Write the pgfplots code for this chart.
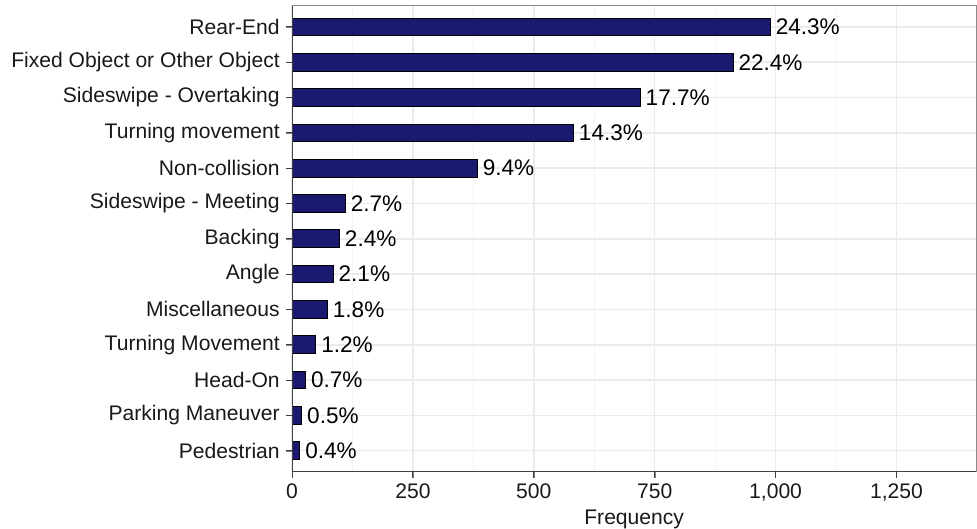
\documentclass[border=0pt]{standalone}
\usepackage{fontspec}
\setmainfont{Liberation Sans}
\usepackage{pgfplots}
\pgfplotsset{compat=1.18}
\definecolor{barblue}{HTML}{191970}
\definecolor{gridmaj}{HTML}{EBEBEB}
\definecolor{gridmin}{HTML}{F5F5F5}

\begin{document}
\begin{tikzpicture}
\begin{axis}[
  scale only axis, width=342.35pt, height=233.3pt,
  xbar, bar width=0.5,
  xmin=0, xmax=1415, ymin=-0.6, ymax=12.6,
  xtick={0,250,...,1250}, minor x tick num=1,
  ytick={0,...,12},
  yticklabels={Pedestrian, Parking Maneuver, Head-On, Turning Movement, Miscellaneous, Angle, Backing, Sideswipe - Meeting, Non-collision, Turning movement, Sideswipe - Overtaking, Fixed Object or Other Object, Rear-End},
  xmajorgrids, xminorgrids, ymajorgrids,
  major grid style={gridmaj, line width=0.75pt},
  minor grid style={gridmin, line width=0.4pt},
  tick align=outside, major tick length=3pt, minor tick length=0pt,
  xtick pos=bottom, ytick pos=left,
  axis line style={black!45, line width=0.5pt},
  tick label style={font=\fontsize{10.55}{12}\selectfont, text=black!90},
  xticklabel style={inner sep=0pt, anchor=north, yshift=-2.5pt},
  yticklabel style={inner sep=0pt, anchor=east, xshift=-3pt},
  /pgf/number format/.cd, 1000 sep={,}, assume math mode=true, /pgfplots/.cd,
  xlabel={Frequency},
  xlabel style={font=\fontsize{10.55}{12}\selectfont, text=black!90, inner sep=0pt, at={(axis description cs:0.5,0)}, anchor=base, yshift=-26.35pt},
  point meta=explicit symbolic,
  nodes near coords,
  every node near coord/.append style={font=\fontsize{11.3}{12}\selectfont, inner sep=0pt, anchor=west, xshift=2.5pt, text=black},
  clip=false,
]
\addplot[fill=barblue, draw=black, line width=0.5pt] coordinates {
  (16,0)   [0.4\%]
  (20,1)   [0.5\%]
  (28,2)   [0.7\%]
  (49,3)   [1.2\%]
  (73,4)   [1.8\%]
  (85,5)   [2.1\%]
  (98,6)   [2.4\%]
  (110,7)  [2.7\%]
  (383,8)  [9.4\%]
  (582,9)  [14.3\%]
  (720,10) [17.7\%]
  (912,11) [22.4\%]
  (989,12) [24.3\%]
};
% darker left and bottom axis lines, tick marks
\draw[black!75, line width=0.5pt] (rel axis cs:0,1) -- (rel axis cs:0,0) -- (rel axis cs:1,0);
\pgfplotsinvokeforeach{0,...,12}{
  \draw[black!75, line width=0.5pt] (axis cs:0,#1) -- ([xshift=-3pt]axis cs:0,#1);
}
\pgfplotsinvokeforeach{0,250,500,750,1000,1250}{
  \draw[black!75, line width=0.5pt] (axis cs:#1,-0.6) -- ([yshift=-3pt]axis cs:#1,-0.6);
}
\end{axis}
\path (current axis.south west) ++(-146.15pt,-28.35pt) rectangle ([yshift=2.85pt]current axis.north east);
\end{tikzpicture}
\end{document}
